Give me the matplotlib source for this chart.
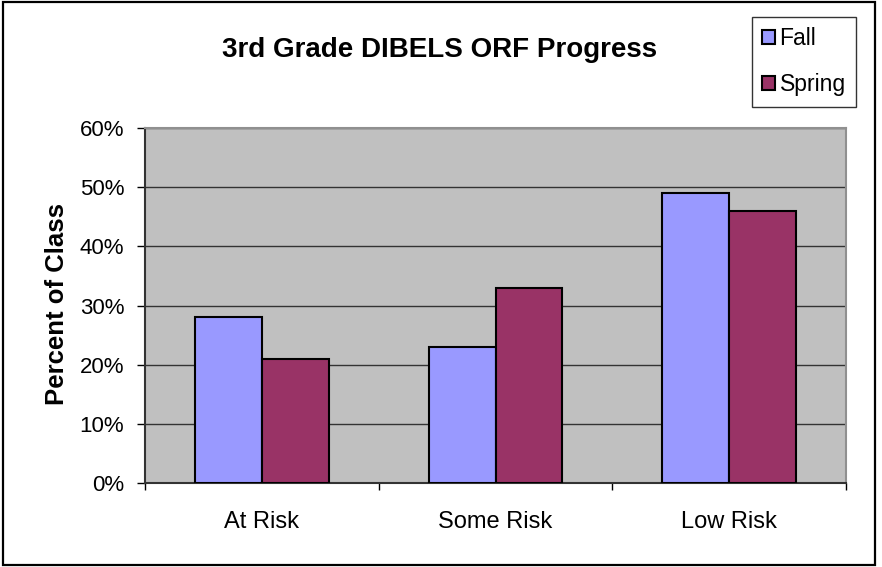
import numpy as np
import matplotlib.pyplot as plt
from matplotlib.patches import Rectangle

categories = ["At Risk", "Some Risk", "Low Risk"]
fall = [28, 23, 49]
spring = [21, 33, 46]
series_names = ["Fall", "Spring"]
y_ticks = [0, 10, 20, 30, 40, 50, 60]

plt.rcParams['font.family'] = ['Liberation Sans', 'DejaVu Sans']

fig = plt.figure(figsize=(8.82, 5.67), dpi=100)
# outer chart frame
fig.patches.append(Rectangle((3 / 882, 2 / 567), 872 / 882, 563 / 567,
                             transform=fig.transFigure, fill=False,
                             edgecolor='black', linewidth=1.6))

ax = fig.add_axes([145 / 882, (567 - 483) / 567, 701 / 882, 355 / 567])
ax.set_facecolor('#c0c0c0')

x = np.arange(len(categories))
w = 1 / 3.5
ax.bar(x - w / 2, fall, w, color='#9999ff', edgecolor='black', linewidth=1.5,
       label=series_names[0], zorder=3)
ax.bar(x + w / 2, spring, w, color='#993366', edgecolor='black', linewidth=1.5,
       label=series_names[1], zorder=3)

ax.set_xlim(-0.5, len(categories) - 0.5)
ax.set_ylim(0, 60)
ax.set_yticks(y_ticks)
ax.set_yticklabels([f"{v}%" for v in y_ticks], fontsize=16)
ax.set_xticks(x)
ax.set_xticklabels(categories, fontsize=17)
ax.tick_params(axis='x', length=0, pad=20)
ax.set_xticks(np.arange(-0.5, len(categories)), minor=True)
ax.tick_params(axis='x', which='minor', length=5, width=1, color='black')
ax.tick_params(axis='y', length=6, width=1, color='black', pad=9)
ax.yaxis.grid(True, color='#333333', linewidth=1)
ax.set_axisbelow(True)
for s in ['left', 'bottom']:
    ax.spines[s].set_color('#333333')
    ax.spines[s].set_linewidth(1.5)
for s in ['top', 'right']:
    ax.spines[s].set_color('#909090')
    ax.spines[s].set_linewidth(1.5)

fig.text(57 / 882, 1 - 304 / 567, "Percent of Class", rotation=90,
         ha='center', va='center', fontsize=18.5, fontweight='bold')
fig.text(440 / 882, 1 - 57 / 567, "3rd Grade DIBELS ORF Progress",
         ha='center', va='baseline', fontsize=20, fontweight='bold')

leg = fig.legend(loc='upper left', bbox_to_anchor=(752 / 882, 1 - 17 / 567),
                 fontsize=16.5, frameon=True, fancybox=False, handlelength=0.55,
                 handleheight=0.55, handletextpad=0.2, labelspacing=1.0,
                 borderpad=0.45, borderaxespad=0)
leg.get_frame().set_edgecolor('black')
leg.get_frame().set_linewidth(1)

fig.savefig("out.png", dpi=100)
